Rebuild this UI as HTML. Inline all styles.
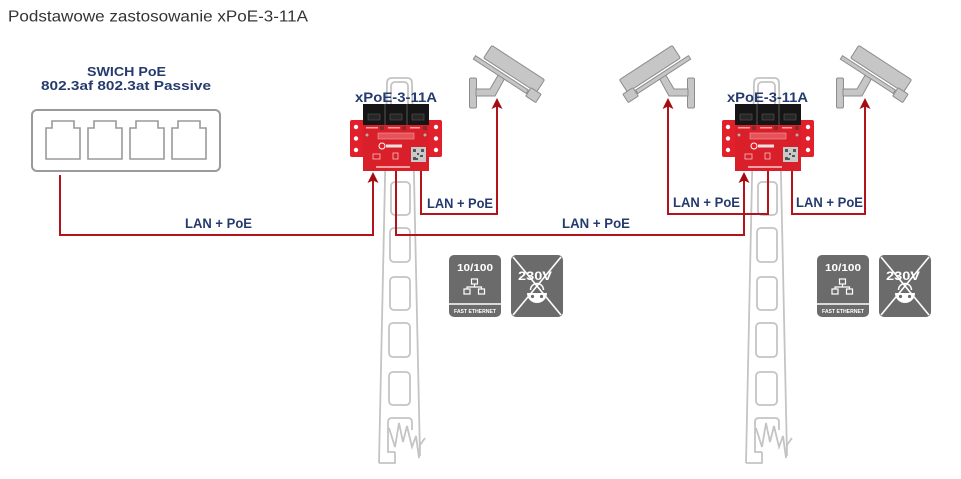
<!DOCTYPE html>
<html>
<head>
<meta charset="utf-8">
<style>
  html,body{margin:0;padding:0;background:#fff;}
  body{width:961px;height:479px;overflow:hidden;}
  svg{display:block;}
  .nv{font-family:"Liberation Sans",sans-serif;font-weight:bold;fill:#253b6e;}
</style>
</head>
<body>
<svg width="961" height="479" viewBox="0 0 961 479" xmlns="http://www.w3.org/2000/svg">
  <rect width="961" height="479" fill="#fff"/>

  <!-- Title -->
  <text x="8" y="21.5" font-family="Liberation Sans, sans-serif" font-size="16" fill="#333" textLength="300" lengthAdjust="spacingAndGlyphs">Podstawowe zastosowanie xPoE-3-11A</text>

  <!-- Switch label -->
  <text class="nv" x="87" y="76" font-size="13" textLength="79" lengthAdjust="spacingAndGlyphs">SWICH PoE</text>
  <text class="nv" x="41" y="90" font-size="13" textLength="170" lengthAdjust="spacingAndGlyphs">802.3af 802.3at Passive</text>

  <!-- Switch box -->
  <rect x="32" y="110" width="188" height="61" rx="5" fill="none" stroke="#9a9a9a" stroke-width="2"/>
  <g fill="none" stroke="#9a9a9a" stroke-width="1.6">
    <path d="M46,159 V128 H52 V121 H74 V128 H80 V159 Z"/>
    <path d="M88,159 V128 H94 V121 H116 V128 H122 V159 Z"/>
    <path d="M130,159 V128 H136 V121 H158 V128 H164 V159 Z"/>
    <path d="M172,159 V128 H178 V121 H200 V128 H206 V159 Z"/>
  </g>

  <!-- Poles -->
  <g fill="none" stroke="#c4c4c4" stroke-width="1.8">
    <g>
      <path d="M379,463 L387,83 Q387,78 392,78 L407,78 Q412,78 412,83 L420,456"/>
      <path d="M379,463 H395 V452"/>
      <rect x="391" y="82" width="17" height="40" rx="4"/>
      <rect x="391" y="182" width="19" height="33" rx="4"/>
      <rect x="390" y="228" width="20" height="34" rx="4"/>
      <rect x="390" y="277" width="20" height="33" rx="4"/>
      <rect x="389" y="323" width="21" height="34" rx="4"/>
      <rect x="389" y="372" width="21" height="33" rx="4"/>
      <path d="M395,452 H388 V422 Q388,418 392,418 H408 Q412,418 412,422 V430"/>
      <path d="M389,428 L395,447 L399,423 L403,442 L407,426 L412,447 L416,436 L419,458 L420,445 L425,438"/>
    </g>
    <g transform="translate(367,0)">
      <path d="M379,463 L387,83 Q387,78 392,78 L407,78 Q412,78 412,83 L420,456"/>
      <path d="M379,463 H395 V452"/>
      <rect x="391" y="82" width="17" height="40" rx="4"/>
      <rect x="391" y="182" width="19" height="33" rx="4"/>
      <rect x="390" y="228" width="20" height="34" rx="4"/>
      <rect x="390" y="277" width="20" height="33" rx="4"/>
      <rect x="389" y="323" width="21" height="34" rx="4"/>
      <rect x="389" y="372" width="21" height="33" rx="4"/>
      <path d="M395,452 H388 V422 Q388,418 392,418 H408 Q412,418 412,422 V430"/>
      <path d="M389,428 L395,447 L399,423 L403,442 L407,426 L412,447 L416,436 L419,458 L420,445 L425,438"/>
    </g>
  </g>

  <!-- Cameras -->
  <g fill="#c6c6c6" stroke="#8c8c8c" stroke-width="1">
    <g>
      <rect x="469.5" y="78" width="7" height="30" rx="1.5"/>
      <path d="M476,89 H490 L500,72 L506,76 L495,96 H476 Z"/>
      <g transform="translate(489,46) rotate(33)">
        <rect x="2" y="-2" width="63" height="15" rx="1.5"/>
        <rect x="-6" y="15.5" width="63" height="4"/>
        <rect x="58" y="12" width="12" height="10" rx="1"/>
      </g>
    </g>
    <g transform="translate(1164,0) scale(-1,1)">
      <rect x="469.5" y="78" width="7" height="30" rx="1.5"/>
      <path d="M476,89 H490 L500,72 L506,76 L495,96 H476 Z"/>
      <g transform="translate(489,46) rotate(33)">
        <rect x="2" y="-2" width="63" height="15" rx="1.5"/>
        <rect x="-6" y="15.5" width="63" height="4"/>
        <rect x="58" y="12" width="12" height="10" rx="1"/>
      </g>
    </g>
    <g transform="translate(367,0)">
      <rect x="469.5" y="78" width="7" height="30" rx="1.5"/>
      <path d="M476,89 H490 L500,72 L506,76 L495,96 H476 Z"/>
      <g transform="translate(489,46) rotate(33)">
        <rect x="2" y="-2" width="63" height="15" rx="1.5"/>
        <rect x="-6" y="15.5" width="63" height="4"/>
        <rect x="58" y="12" width="12" height="10" rx="1"/>
      </g>
    </g>
  </g>

  <!-- Devices -->
  <g>
    <g>
      <rect x="350" y="120" width="16" height="37" rx="2" fill="#e2202c"/>
      <circle cx="356" cy="127" r="2.2" fill="#fff"/><circle cx="356" cy="138.5" r="2.2" fill="#fff"/><circle cx="356" cy="150" r="2.2" fill="#fff"/>
      <rect x="426" y="120" width="16" height="37" rx="2" fill="#e2202c"/>
      <circle cx="436" cy="127" r="2.2" fill="#fff"/><circle cx="436" cy="138.5" r="2.2" fill="#fff"/><circle cx="436" cy="150" r="2.2" fill="#fff"/>
      <rect x="363" y="105" width="66" height="66" fill="#d91f2a"/>
      <rect x="363" y="104" width="66" height="21" fill="#151515"/>
      <line x1="385" y1="104" x2="385" y2="125" stroke="#555" stroke-width="1"/>
      <line x1="407" y1="104" x2="407" y2="125" stroke="#555" stroke-width="1"/>
      <rect x="368" y="114" width="12" height="6" fill="#262626" stroke="#555" stroke-width="0.6"/>
      <rect x="390" y="114" width="12" height="6" fill="#262626" stroke="#555" stroke-width="0.6"/>
      <rect x="412" y="114" width="12" height="6" fill="#262626" stroke="#555" stroke-width="0.6"/>
      <rect x="366" y="127" width="12" height="1.5" fill="#f3a3a3"/>
      <rect x="388" y="127" width="12" height="1.5" fill="#f3a3a3"/>
      <rect x="410" y="127" width="10" height="1.5" fill="#f3a3a3"/>
      <rect x="380" y="126" width="4" height="4" fill="#8a2a2a"/>
      <rect x="402" y="126" width="4" height="4" fill="#8a2a2a"/>
      <rect x="423" y="126" width="4" height="4" fill="#8a2a2a"/>
      <rect x="378" y="133" width="36" height="6" fill="#e4525a" stroke="#f5a0a0" stroke-width="0.6"/>
      <circle cx="367" cy="135" r="1.5" fill="#b0b0b0"/>
      <circle cx="425" cy="135" r="1.5" fill="#b0b0b0"/>
      <circle cx="382" cy="146" r="3" fill="none" stroke="#fff" stroke-width="1"/>
      <rect x="386" y="144.5" width="16" height="3" fill="#fbe0e0"/>
      <rect x="373" y="154" width="7" height="5" fill="none" stroke="#f7c0c0" stroke-width="0.8"/>
      <rect x="393" y="153" width="5" height="6" fill="none" stroke="#f7c0c0" stroke-width="0.8"/>
      <rect x="411" y="147" width="15" height="15" fill="#c9c9c9"/>
      <path d="M413,149h3v3h-3zM421,149h3v3h-3zM413,157h3v3h-3zM417,153h2v2h-2zM420,155h3v2h-3zM416,158h2v2h-2z" fill="#555"/>
      <rect x="376" y="166" width="34" height="2" fill="#f0a0a0"/>
    </g>
    <g transform="translate(372,0)">
      <rect x="350" y="120" width="16" height="37" rx="2" fill="#e2202c"/>
      <circle cx="356" cy="127" r="2.2" fill="#fff"/><circle cx="356" cy="138.5" r="2.2" fill="#fff"/><circle cx="356" cy="150" r="2.2" fill="#fff"/>
      <rect x="426" y="120" width="16" height="37" rx="2" fill="#e2202c"/>
      <circle cx="436" cy="127" r="2.2" fill="#fff"/><circle cx="436" cy="138.5" r="2.2" fill="#fff"/><circle cx="436" cy="150" r="2.2" fill="#fff"/>
      <rect x="363" y="105" width="66" height="66" fill="#d91f2a"/>
      <rect x="363" y="104" width="66" height="21" fill="#151515"/>
      <line x1="385" y1="104" x2="385" y2="125" stroke="#555" stroke-width="1"/>
      <line x1="407" y1="104" x2="407" y2="125" stroke="#555" stroke-width="1"/>
      <rect x="368" y="114" width="12" height="6" fill="#262626" stroke="#555" stroke-width="0.6"/>
      <rect x="390" y="114" width="12" height="6" fill="#262626" stroke="#555" stroke-width="0.6"/>
      <rect x="412" y="114" width="12" height="6" fill="#262626" stroke="#555" stroke-width="0.6"/>
      <rect x="366" y="127" width="12" height="1.5" fill="#f3a3a3"/>
      <rect x="388" y="127" width="12" height="1.5" fill="#f3a3a3"/>
      <rect x="410" y="127" width="10" height="1.5" fill="#f3a3a3"/>
      <rect x="380" y="126" width="4" height="4" fill="#8a2a2a"/>
      <rect x="402" y="126" width="4" height="4" fill="#8a2a2a"/>
      <rect x="423" y="126" width="4" height="4" fill="#8a2a2a"/>
      <rect x="378" y="133" width="36" height="6" fill="#e4525a" stroke="#f5a0a0" stroke-width="0.6"/>
      <circle cx="367" cy="135" r="1.5" fill="#b0b0b0"/>
      <circle cx="425" cy="135" r="1.5" fill="#b0b0b0"/>
      <circle cx="382" cy="146" r="3" fill="none" stroke="#fff" stroke-width="1"/>
      <rect x="386" y="144.5" width="16" height="3" fill="#fbe0e0"/>
      <rect x="373" y="154" width="7" height="5" fill="none" stroke="#f7c0c0" stroke-width="0.8"/>
      <rect x="393" y="153" width="5" height="6" fill="none" stroke="#f7c0c0" stroke-width="0.8"/>
      <rect x="411" y="147" width="15" height="15" fill="#c9c9c9"/>
      <path d="M413,149h3v3h-3zM421,149h3v3h-3zM413,157h3v3h-3zM417,153h2v2h-2zM420,155h3v2h-3zM416,158h2v2h-2z" fill="#555"/>
      <rect x="376" y="166" width="34" height="2" fill="#f0a0a0"/>
    </g>
  </g>

  <!-- Device labels -->
  <text class="nv" x="355" y="102" font-size="14" textLength="82" lengthAdjust="spacingAndGlyphs">xPoE-3-11A</text>
  <text class="nv" x="727" y="102" font-size="14" textLength="81" lengthAdjust="spacingAndGlyphs">xPoE-3-11A</text>

  <!-- Red connectors -->
  <g fill="none" stroke="#b3141c" stroke-width="2">
    <path d="M60,175 V235 H373 V180"/>
    <path d="M396,171 V235 H744 V180"/>
    <path d="M421,171 V214 H497 V106"/>
    <path d="M768,171 V214 H668 V106"/>
    <path d="M792,171 V214 H865 V106"/>
  </g>
  <g fill="#a30d12">
    <path d="M373,172 L378.5,183 L373,180.5 L367.5,183 Z"/>
    <path d="M744,172 L749.5,183 L744,180.5 L738.5,183 Z"/>
    <path d="M497,98 L502.5,109 L497,106.5 L491.5,109 Z"/>
    <path d="M668,98 L673.5,109 L668,106.5 L662.5,109 Z"/>
    <path d="M865,98 L870.5,109 L865,106.5 L859.5,109 Z"/>
  </g>

  <!-- LAN + PoE labels -->
  <text class="nv" x="185" y="228" font-size="13.5" textLength="67" lengthAdjust="spacingAndGlyphs">LAN + PoE</text>
  <text class="nv" x="427" y="208" font-size="13.5" textLength="66" lengthAdjust="spacingAndGlyphs">LAN + PoE</text>
  <text class="nv" x="562" y="228" font-size="13.5" textLength="68" lengthAdjust="spacingAndGlyphs">LAN + PoE</text>
  <text class="nv" x="673" y="207" font-size="13.5" textLength="67" lengthAdjust="spacingAndGlyphs">LAN + PoE</text>
  <text class="nv" x="796" y="207" font-size="13.5" textLength="67" lengthAdjust="spacingAndGlyphs">LAN + PoE</text>

  <!-- Badges -->
  <g>
    <g>
      <rect x="449" y="255" width="52" height="62" rx="5" fill="#6b6b6b"/>
      <text x="475" y="271" text-anchor="middle" font-family="Liberation Sans, sans-serif" font-weight="bold" font-size="10.5" fill="#fff" textLength="36" lengthAdjust="spacingAndGlyphs">10/100</text>
      <g fill="none" stroke="#fff" stroke-width="1.2">
        <rect x="471.5" y="279" width="6" height="5"/>
        <path d="M474.5,284 V287 M467,289 V287 H481.5 V289"/>
        <rect x="464" y="289" width="6" height="5"/>
        <rect x="478.5" y="289" width="6" height="5"/>
      </g>
      <line x1="449" y1="304" x2="501" y2="304" stroke="#fff" stroke-width="1.5"/>
      <text x="475" y="313" text-anchor="middle" font-family="Liberation Sans, sans-serif" font-weight="bold" font-size="5.5" fill="#fff" textLength="42" lengthAdjust="spacingAndGlyphs">FAST ETHERNET</text>
    </g>
    <g>
      <rect x="511" y="255" width="52" height="62" rx="5" fill="#6b6b6b"/>
      <text x="535" y="280" text-anchor="middle" font-family="Liberation Sans, sans-serif" font-weight="bold" font-size="12" fill="#fff" textLength="34" lengthAdjust="spacingAndGlyphs">230V</text>
      <path d="M527,293 H547 A10,10 0 0 1 527,293 Z" fill="#fff"/>
      <circle cx="532.5" cy="296.5" r="1.6" fill="#6b6b6b"/><circle cx="541.5" cy="296.5" r="1.6" fill="#6b6b6b"/>
      <path d="M530.5,290 A6.5,6.5 0 0 1 543.5,290" fill="none" stroke="#fff" stroke-width="1.5"/>
      <g stroke="#fff" stroke-width="1.6">
        <line x1="513" y1="257" x2="561" y2="315"/>
        <line x1="561" y1="257" x2="513" y2="315"/>
      </g>
    </g>
    <g transform="translate(368,0)">
      <rect x="449" y="255" width="52" height="62" rx="5" fill="#6b6b6b"/>
      <text x="475" y="271" text-anchor="middle" font-family="Liberation Sans, sans-serif" font-weight="bold" font-size="10.5" fill="#fff" textLength="36" lengthAdjust="spacingAndGlyphs">10/100</text>
      <g fill="none" stroke="#fff" stroke-width="1.2">
        <rect x="471.5" y="279" width="6" height="5"/>
        <path d="M474.5,284 V287 M467,289 V287 H481.5 V289"/>
        <rect x="464" y="289" width="6" height="5"/>
        <rect x="478.5" y="289" width="6" height="5"/>
      </g>
      <line x1="449" y1="304" x2="501" y2="304" stroke="#fff" stroke-width="1.5"/>
      <text x="475" y="313" text-anchor="middle" font-family="Liberation Sans, sans-serif" font-weight="bold" font-size="5.5" fill="#fff" textLength="42" lengthAdjust="spacingAndGlyphs">FAST ETHERNET</text>
    </g>
    <g transform="translate(368,0)">
      <rect x="511" y="255" width="52" height="62" rx="5" fill="#6b6b6b"/>
      <text x="535" y="280" text-anchor="middle" font-family="Liberation Sans, sans-serif" font-weight="bold" font-size="12" fill="#fff" textLength="34" lengthAdjust="spacingAndGlyphs">230V</text>
      <path d="M527,293 H547 A10,10 0 0 1 527,293 Z" fill="#fff"/>
      <circle cx="532.5" cy="296.5" r="1.6" fill="#6b6b6b"/><circle cx="541.5" cy="296.5" r="1.6" fill="#6b6b6b"/>
      <path d="M530.5,290 A6.5,6.5 0 0 1 543.5,290" fill="none" stroke="#fff" stroke-width="1.5"/>
      <g stroke="#fff" stroke-width="1.6">
        <line x1="513" y1="257" x2="561" y2="315"/>
        <line x1="561" y1="257" x2="513" y2="315"/>
      </g>
    </g>
  </g>
</svg>
</body>
</html>
